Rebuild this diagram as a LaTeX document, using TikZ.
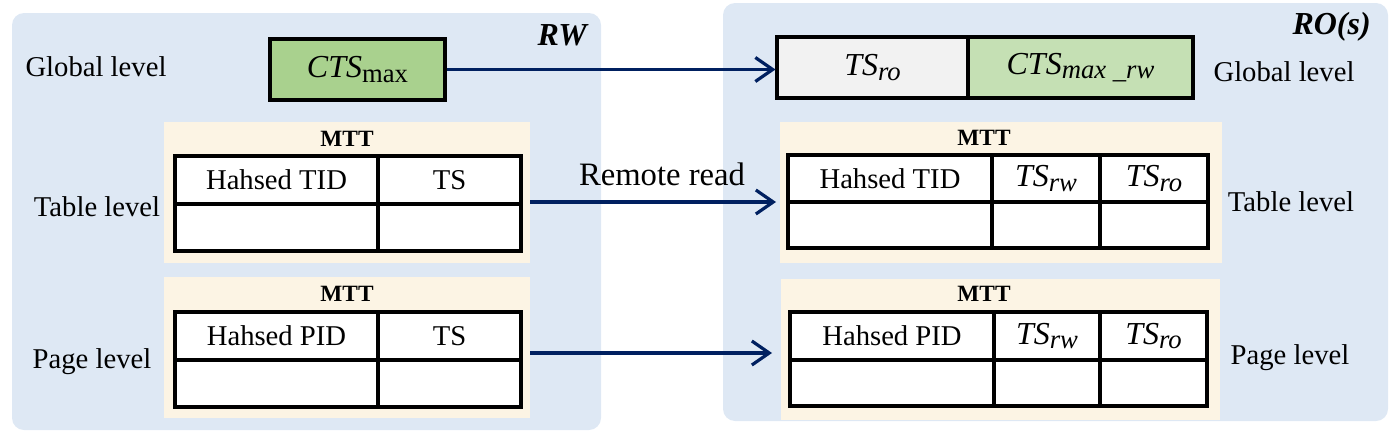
\documentclass[tikz,border=0pt]{standalone}
\usepackage{fontspec}
\setmainfont{Liberation Serif}
\usetikzlibrary{arrows.meta,fit}
\definecolor{panelblue}{RGB}{222,232,244}
\definecolor{creamc}{RGB}{252,244,228}
\definecolor{greenA}{RGB}{169,209,142}
\definecolor{greenB}{RGB}{197,224,180}
\definecolor{grayA}{RGB}{242,242,242}
\definecolor{navy}{RGB}{0,32,96}
\newcommand\myvar[2]{{\fontsize{24pt}{26pt}\selectfont\itshape #1}\raisebox{-0.35ex}{\fontsize{20pt}{22pt}\selectfont #2}}
\tikzset{
  panel/.style={fill=panelblue, draw=none, rounded corners=9pt},
  cream/.style={fill=creamc, draw=none, inner sep=0pt},
  cell/.style={draw=black, line width=2.3pt, fill=white, inner sep=0pt},
  gbox/.style={draw=black, line width=2.3pt, inner sep=0pt},
  lbl/.style={inner sep=0pt, font=\fontsize{21.5pt}{24pt}\selectfont},
  mtt/.style={inner sep=0pt, font=\fontsize{17.5pt}{20pt}\selectfont\bfseries},
  side/.style={inner sep=0pt, font=\fontsize{24pt}{28pt}\selectfont\bfseries\itshape},
  arr/.style={draw=navy, line width=2.4pt, -{Straight Barb[length=13pt,width=18pt,line width=2.4pt]}}
}
\begin{document}
\begin{tikzpicture}[x=0.75pt,y=-0.75pt]
\useasboundingbox (0,0) rectangle (1392,432);
% panels
\path[panel] (12,13) rectangle (601,430);
\path[panel] (723,3) rectangle (1388,421);
\node[side, anchor=east] (rw) at (587,35) {RW};
\node[side, anchor=east] (ro) at (1371,27) {RO(s)};
% creams
\node[cream, fit={(164,122)(530,263)}] (cL1) {};
\node[cream, fit={(164,277)(530,418)}] (cL2) {};
\node[cream, fit={(780,122)(1222,263)}] (cR1) {};
\node[cream, fit={(781,279)(1220,420)}] (cR2) {};
\node[mtt] (mL1) at (347,139) {MTT};
\node[mtt] (mL2) at (347,294) {MTT};
\node[mtt] (mR1) at (984,138) {MTT};
\node[mtt] (mR2) at (984,294) {MTT};
% global boxes
\node[gbox, fill=greenA, fit={(270,39)(445,100)}] (gL) {};
\node[gbox, fill=grayA, fit={(777,37)(968,98)}] (gR1) {};
\node[gbox, fill=greenB, fit={(968,37)(1193,98)}] (gR2) {};
\node[lbl] (tgL) at (gL) {\myvar{CTS}{max}};
\node[lbl] (tgR1) at (gR1) {\myvar{TS}{\itshape ro}};
\node[lbl] (tgR2) at (gR2) {\myvar{CTS}{\itshape max \_rw}};
% left table 1
\node[cell, fit={(175,156)(378,204)}] (l1a) {};
\node[cell, fit={(378,156)(521,204)}] (l1b) {};
\node[cell, fit={(175,204)(378,251)}] (l1c) {};
\node[cell, fit={(378,204)(521,251)}] (l1d) {};
\node[lbl] (tl1a) at (l1a) {Hahsed TID};
\node[lbl] (tl1b) at (l1b) {TS};
% left table 2
\node[cell, fit={(175,312)(378,360)}] (l2a) {};
\node[cell, fit={(378,312)(521,360)}] (l2b) {};
\node[cell, fit={(175,360)(378,407)}] (l2c) {};
\node[cell, fit={(378,360)(521,407)}] (l2d) {};
\node[lbl] (tl2a) at (l2a) {Hahsed PID};
\node[lbl] (tl2b) at (l2b) {TS};
% right table 1
\node[cell, fit={(788,155)(992,202)}] (r1a) {};
\node[cell, fit={(992,155)(1100,202)}] (r1b) {};
\node[cell, fit={(1100,155)(1208,202)}] (r1c) {};
\node[cell, fit={(788,202)(992,248)}] (r1d) {};
\node[cell, fit={(992,202)(1100,248)}] (r1e) {};
\node[cell, fit={(1100,202)(1208,248)}] (r1f) {};
\node[lbl] (tr1a) at (r1a) {Hahsed TID};
\node[lbl] (tr1b) at (r1b) {\myvar{TS}{\itshape rw}};
\node[lbl] (tr1c) at (r1c) {\myvar{TS}{\itshape ro}};
% right table 2
\node[cell, fit={(790,312)(994,360)}] (r2a) {};
\node[cell, fit={(994,312)(1100,360)}] (r2b) {};
\node[cell, fit={(1100,312)(1207,360)}] (r2c) {};
\node[cell, fit={(790,360)(994,406)}] (r2d) {};
\node[cell, fit={(994,360)(1100,406)}] (r2e) {};
\node[cell, fit={(1100,360)(1207,406)}] (r2f) {};
\node[lbl] (tr2a) at (r2a) {Hahsed PID};
\node[lbl] (tr2b) at (r2b) {\myvar{TS}{\itshape rw}};
\node[lbl] (tr2c) at (r2c) {\myvar{TS}{\itshape ro}};
% level labels
\node[lbl] (gll) at (96,67) {Global level};
\node[lbl] (tll) at (97,207) {Table level};
\node[lbl] (pll) at (92,362) {Page level};
\node[lbl] (glr) at (1284,72) {Global level};
\node[lbl] (tlr) at (1291,202) {Table level};
\node[lbl] (plr) at (1290,358) {Page level};
\node[lbl, font=\fontsize{24.5pt}{26pt}\selectfont] (rr) at (662,174) {Remote read};
% arrows
\coordinate (a2e) at (776,202);
\coordinate (a3e) at (772,353);
\draw[arr] (gL.east) -- (gL.east -| gR1.west);
\draw[arr] (cL1.east |- a2e) -- (a2e);
\draw[arr] (cL2.east |- a3e) -- (a3e);
\end{tikzpicture}
\end{document}
